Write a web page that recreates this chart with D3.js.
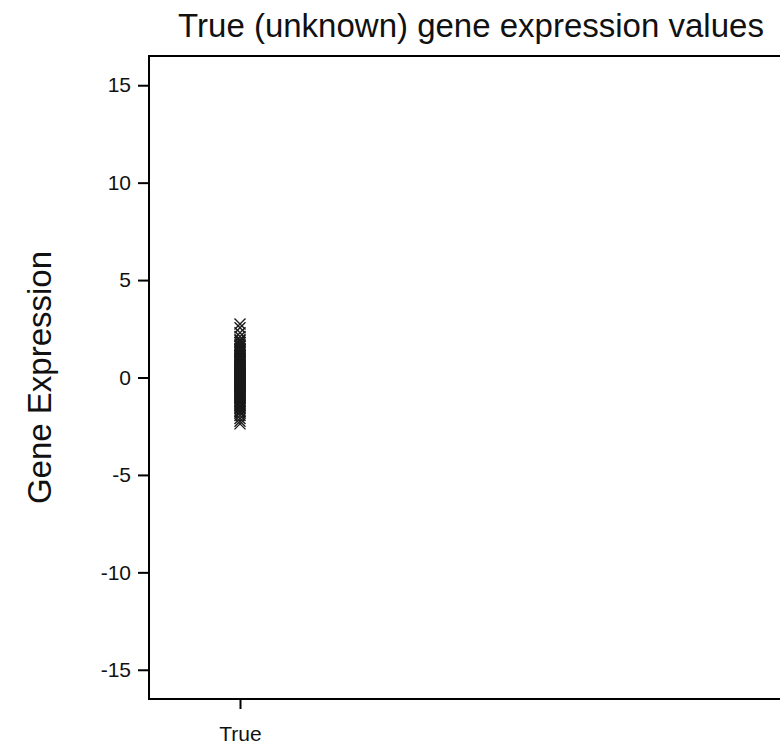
<!DOCTYPE html>
<html>
<head>
<meta charset="utf-8">
<script src="https://cdn.jsdelivr.net/npm/d3@7"></script>
<style>
  html, body { margin: 0; padding: 0; background: #fff; }
  svg { display: block; font-family: "Liberation Sans", Arial, sans-serif; }
</style>
</head>
<body>
<svg id="chart" width="780" height="745"></svg>
<script>
// Group shown on the x axis
const groups = ["True"];

// Expression values for the single group (one point per gene)
const trueValues = [
  2.75, 2.55, 2.3, 2.1, 1.95, 1.8, 1.7, 1.6, 1.5, 1.42, 1.35, 1.28, 1.2, 1.12,
  1.05, 0.98, 0.92, 0.86, 0.8, 0.74, 0.68, 0.62, 0.57, 0.52, 0.47, 0.42, 0.37,
  0.32, 0.28, 0.24, 0.2, 0.16, 0.12, 0.08, 0.04, 0.01, -0.02, -0.06, -0.1,
  -0.14, -0.18, -0.22, -0.26, -0.3, -0.35, -0.4, -0.45, -0.5, -0.55, -0.6,
  -0.66, -0.72, -0.78, -0.84, -0.9, -0.97, -1.04, -1.1, -1.18, -1.26, -1.34,
  -1.42, -1.5, -1.6, -1.7, -1.82, -1.95, -2.1, -2.25, -2.38,
  1.88, 1.64, 1.46, 1.31, 1.15, 1.01, 0.89, 0.77, 0.65, 0.54, 0.44, 0.34,
  0.26, 0.18, 0.1, 0.03, -0.04, -0.12, -0.2, -0.28, -0.38, -0.48, -0.58,
  -0.69, -0.81, -0.94, -1.07, -1.22, -1.38, -1.55, -1.76
];

const yTicks = [-15, -10, -5, 0, 5, 10, 15];

const svg = d3.select("#chart");
const margin = { top: 56, right: -10, bottom: 46, left: 149 };
const width = 780 - margin.left - margin.right;
const height = 745 - margin.top - margin.bottom;
const font = "'Liberation Sans', Arial, sans-serif";

const g = svg.append("g").attr("transform", `translate(${margin.left},${margin.top})`);

const y = d3.scaleLinear().domain([-16.5, 16.5]).range([height, 0]);
const x = d3.scalePoint().domain(groups).range([91, 91]);

// Frame: left, top and bottom edges
g.append("line").attr("x1", 0).attr("x2", 0).attr("y1", 0).attr("y2", height)
  .attr("stroke", "#000").attr("stroke-width", 2);
g.append("line").attr("x1", -1).attr("x2", width).attr("y1", 0).attr("y2", 0)
  .attr("stroke", "#000").attr("stroke-width", 2);
g.append("line").attr("x1", -1).attr("x2", width).attr("y1", height).attr("y2", height)
  .attr("stroke", "#000").attr("stroke-width", 2);

// Y axis ticks and labels
const yAxis = d3.axisLeft(y).tickValues(yTicks).tickSize(11).tickPadding(7)
  .tickFormat(d => String(d));
const ya = g.append("g").call(yAxis);
ya.attr("font-size", null).attr("font-family", null);
ya.select(".domain").remove();
ya.selectAll(".tick line").attr("stroke", "#000").attr("stroke-width", 2);
ya.selectAll(".tick text").attr("font-size", 21).attr("fill", "#111")
  .attr("font-family", font);

// X axis tick and label
const xAxis = d3.axisBottom(x).tickSize(10).tickPadding(17);
const xa = g.append("g").attr("transform", `translate(0,${height})`).call(xAxis);
xa.attr("font-size", null).attr("font-family", null);
xa.select(".domain").remove();
xa.selectAll(".tick line").attr("stroke", "#000").attr("stroke-width", 2);
xa.selectAll(".tick text").attr("font-size", 21).attr("fill", "#111")
  .attr("font-family", font);

// Points drawn as "x" markers
const s = 5.5;
g.append("g").selectAll("path").data(trueValues).join("path")
  .attr("d", d => {
    const cx = x("True"), cy = y(d);
    return `M${cx - s},${cy - s}L${cx + s},${cy + s}M${cx - s},${cy + s}L${cx + s},${cy - s}`;
  })
  .attr("stroke", "#1a1a1a").attr("stroke-width", 1.4).attr("fill", "none");

// Title
svg.append("text").attr("x", 471).attr("y", 37).attr("text-anchor", "middle")
  .attr("font-size", 33).attr("fill", "#111").attr("font-family", font)
  .text("True (unknown) gene expression values");

// Y axis title
svg.append("text").attr("transform", `translate(51,${margin.top + y(0)}) rotate(-90)`)
  .attr("text-anchor", "middle").attr("font-size", 33).attr("fill", "#111")
  .attr("font-family", font)
  .text("Gene Expression");
</script>
</body>
</html>
